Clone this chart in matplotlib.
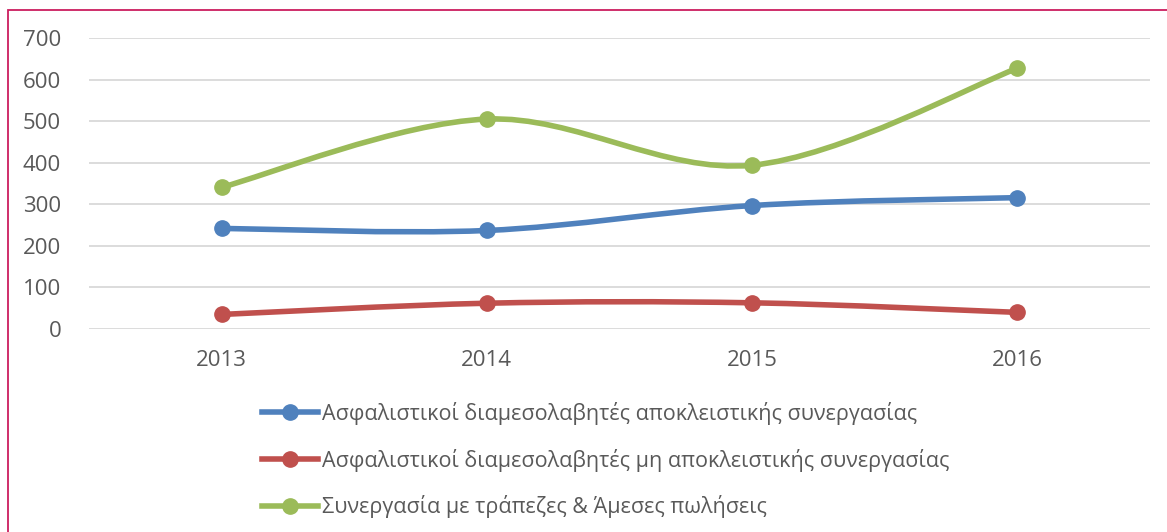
import numpy as np
import matplotlib.pyplot as plt
from matplotlib.path import Path
from matplotlib.patches import PathPatch, Rectangle
from matplotlib.lines import Line2D

plt.rcParams['font.family'] = ['Open Sans', 'DejaVu Sans']

years = ['2013', '2014', '2015', '2016']
exclusive = [242, 237, 297, 316]
non_exclusive = [35, 62, 63, 40]
banks_direct = [341, 505, 394, 627]

labels = ['Ασφαλιστικοί διαμεσολαβητές αποκλειστικής συνεργασίας',
          'Ασφαλιστικοί διαμεσολαβητές μη αποκλειστικής συνεργασίας',
          'Συνεργασία με τράπεζες & Άμεσες πωλήσεις']
colors = ['#4F81BD', '#C0504D', '#9BBB59']
text_color = '#595959'


def smooth_path(xs, ys):
    # Excel-like smoothed line: bezier segments through the data points
    pts = np.column_stack([xs, ys]).astype(float)
    n = len(pts)
    verts = [pts[0]]
    codes = [Path.MOVETO]
    for i in range(n - 1):
        p0 = pts[max(i - 1, 0)]
        p1 = pts[i]
        p2 = pts[i + 1]
        p3 = pts[min(i + 2, n - 1)]
        c1 = p1 + (p2 - p0) / 6.0
        c2 = p2 - (p3 - p1) / 6.0
        verts += [c1, c2, p2]
        codes += [Path.CURVE4] * 3
    return Path(verts, codes)


fig = plt.figure(figsize=(11.67, 5.32), dpi=100)
ax = fig.add_axes([89 / 1167, 1 - 329 / 532, (1150 - 89) / 1167, (329 - 38) / 532])

x = np.arange(len(years))
series = [exclusive, non_exclusive, banks_direct]
handles = []
for vals, col, lab in zip(series, colors, labels):
    ax.add_patch(PathPatch(smooth_path(x, vals), facecolor='none', edgecolor=col,
                           lw=4, capstyle='round', joinstyle='round', zorder=3))
    ax.plot(x, vals, 'o', color=col, markersize=11, zorder=4)
    handles.append(Line2D([], [], color=col, lw=4, marker='o', markersize=11))

ax.set_xlim(-0.5, 3.5)
ax.set_ylim(0, 700)
ax.set_yticks(range(0, 701, 100))
ax.set_xticks(x)
ax.set_xticklabels(years)
ax.grid(axis='y', color='#D9D9D9', lw=1.3)
ax.set_axisbelow(True)
for s in ax.spines.values():
    s.set_visible(False)
ax.tick_params(length=0, labelsize=16, colors=text_color)
ax.tick_params(axis='y', pad=20)
ax.tick_params(axis='x', pad=15)

fig.legend(handles, labels, loc='upper left', bbox_to_anchor=(262 / 1167, 1 - 402 / 532),
           frameon=False, fontsize=15.5, labelcolor=text_color, handlelength=2.6,
           handletextpad=0.2, labelspacing=1.1, borderaxespad=0, borderpad=0)

fig.patches.append(Rectangle((7.5 / 1167, -0.05), 1.2, 1 - 9.5 / 532 + 0.05,
                             transform=fig.transFigure, fill=False,
                             edgecolor='#CC1E5F', lw=1.3))

fig.savefig('out.png', dpi=100)
